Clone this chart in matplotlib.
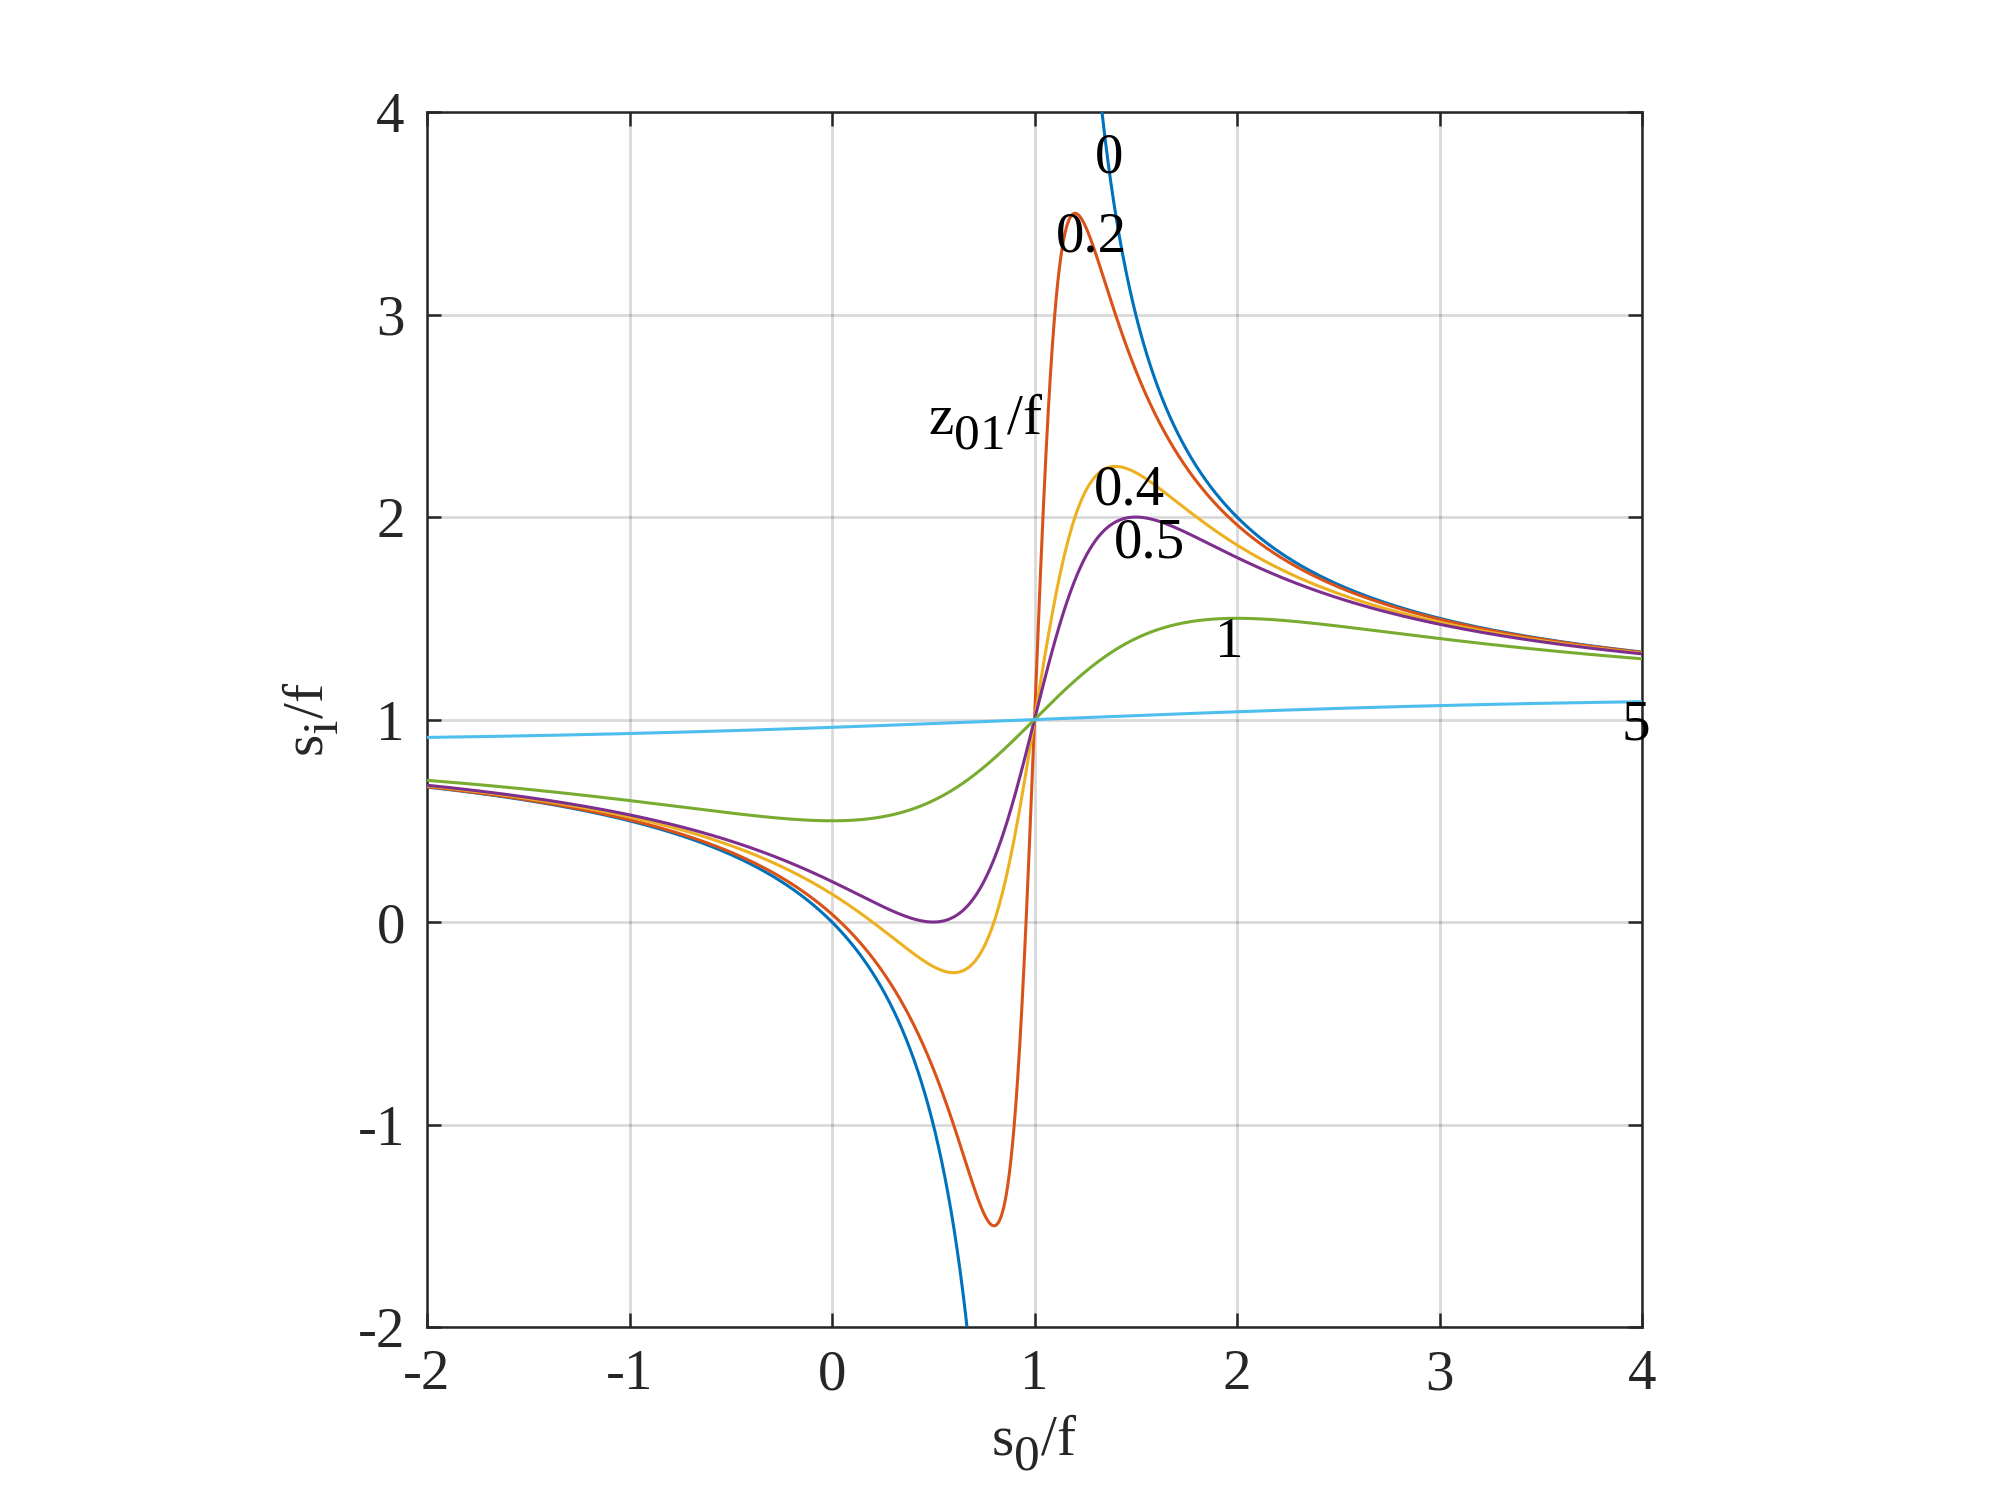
import numpy as np
import matplotlib
matplotlib.use("Agg")
from matplotlib import pyplot as plt
import matplotlib._mathtext as mtext

# z01/f values of the curves and where their labels sit
z_values = [0, 0.2, 0.4, 0.5, 1, 5]
colors = ["#0072BD", "#D95319", "#EDB120", "#7E2F8E", "#77AC30", "#4DBEEE"]
label_text = ["0", "0.2", "0.4", "0.5", "1", "5"]
label_x = [1.37, 1.28, 1.47, 1.57, 1.96, 3.97]
label_y = [3.77, 3.38, 2.13, 1.87, 1.38, 0.97]

x_ticks = [-2, -1, 0, 1, 2, 3, 4]
y_ticks = [-2, -1, 0, 1, 2, 3, 4]

plt.rcParams["font.family"] = ["Liberation Serif", "DejaVu Serif"]
plt.rcParams["mathtext.fontset"] = "custom"
plt.rcParams["mathtext.rm"] = "Liberation Serif"
plt.rcParams["mathtext.it"] = "Liberation Serif"

# matlab style subscripts: bigger and lower than mathtext default
mtext.SHRINK_FACTOR = 0.9
mtext.FontConstantsBase.sub1 = 0.6
mtext.FontConstantsBase.sub2 = 0.8


def image_distance(s, z):
    # gaussian beam thin lens: s_i/f against s_0/f
    d = s - 1.0
    with np.errstate(divide="ignore", invalid="ignore"):
        si = 1.0 + d / (d ** 2 + z ** 2)
    si[np.abs(si) > 50] = np.nan
    return si


def main():

    fig = plt.figure(figsize=(10, 7.5), dpi=200)
    ax = fig.add_axes([0.2135, 0.1153, 0.6075, 0.81])

    s = np.linspace(-2, 4, 6001)
    for z, c in zip(z_values, colors):
        ax.plot(s, image_distance(s, z), color=c, lw=1.1, zorder=3)

    for t, x, y in zip(label_text, label_x, label_y):
        ax.text(x, y, t, fontsize=20.5, ha="center", va="center", zorder=4)
    ax.text(0.76, 2.47, r"$\mathrm{z_{01}/f}$", fontsize=20.5, ha="center", va="center")

    ax.set_xlim(-2, 4)
    ax.set_ylim(-2, 4)
    ax.set_xticks(x_ticks)
    ax.set_yticks(y_ticks)
    ax.set_xticklabels([str(v) for v in x_ticks])
    ax.set_yticklabels([str(v) for v in y_ticks])
    ax.grid(True, color="#000000", alpha=0.15, lw=1.0)
    ax.tick_params(direction="in", length=5, width=0.9, labelsize=20.5,
                   top=True, right=True, colors="#262626", pad=8)
    for sp in ax.spines.values():
        sp.set_linewidth(0.9)
        sp.set_color("#262626")

    ax.set_xlabel(r"$\mathrm{s_0/f}$", fontsize=20.5, color="#262626", labelpad=4)
    ax.set_ylabel(r"$\mathrm{s_i/f}$", fontsize=20.5, color="#262626", labelpad=6)

    fig.savefig("out.png", dpi=200)


if __name__ == '__main__':

    main()
